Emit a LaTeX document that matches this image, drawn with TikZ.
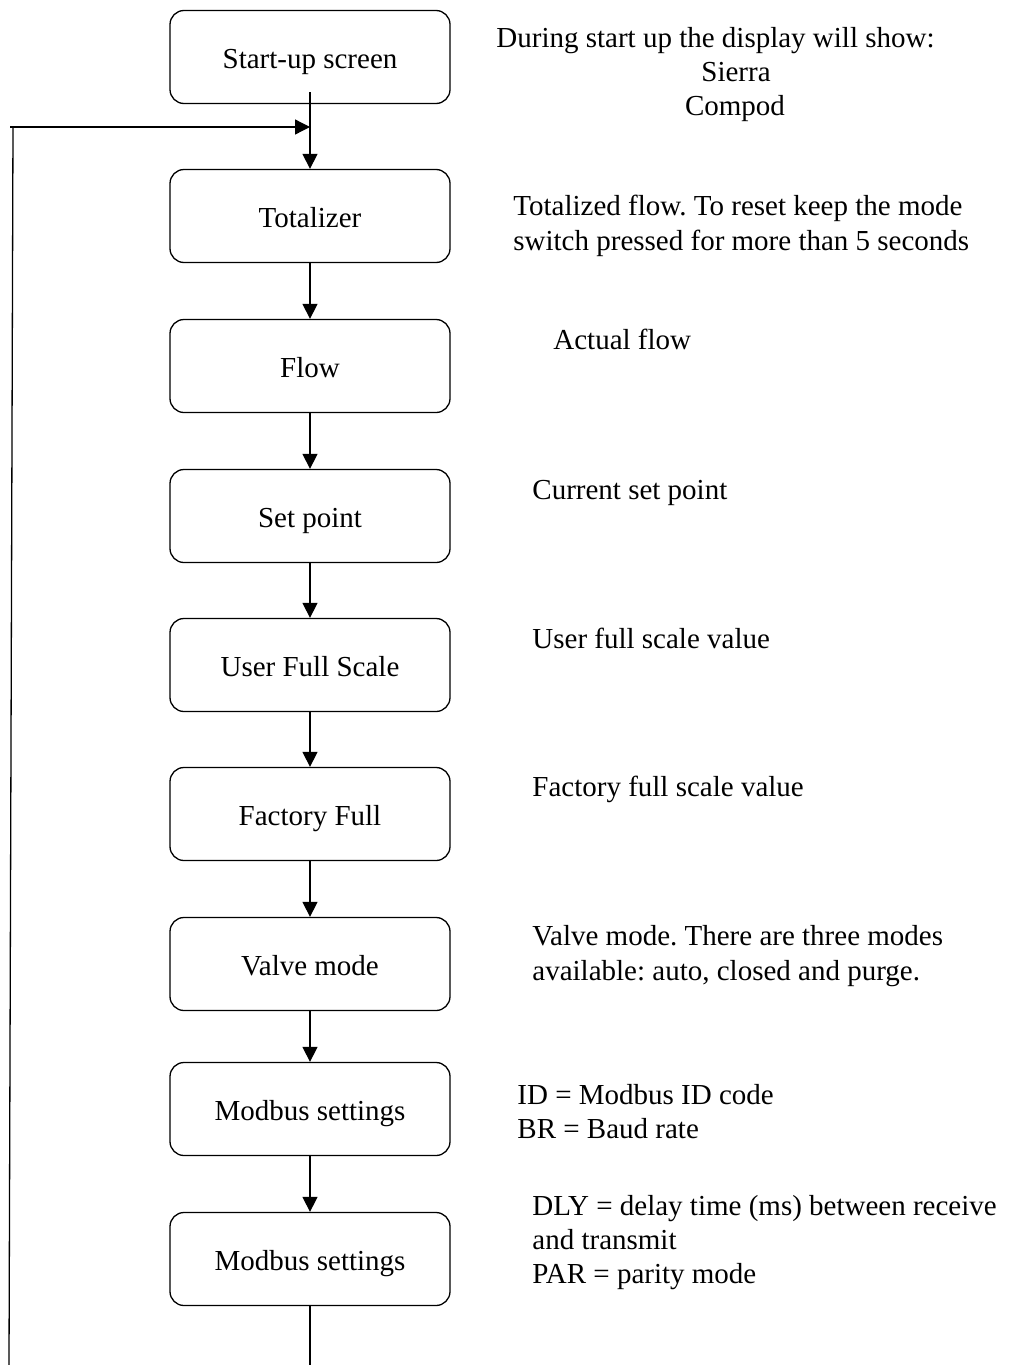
\documentclass[tikz,border=0pt]{standalone}
\usepackage{fontspec}
\setmainfont{Liberation Serif}
\frenchspacing
\usetikzlibrary{arrows.meta}
\begin{document}
\begin{tikzpicture}[x=0.5pt,y=-0.5pt,
  every node/.style={font=\fontsize{14.5pt}{17.5pt}\selectfont, inner sep=0pt},
  stepbox/.style={draw, line width=0.65pt, rounded corners=7pt, minimum width=140pt, minimum height=46.5pt, text height=11pt, text depth=0pt},
  desc/.style={anchor=base west},
  descc/.style={anchor=base},
  conn/.style={line width=0.65pt},
  arr/.style={conn, -{Triangle[length=7.5pt,width=7.5pt]}}]
\useasboundingbox (0,0) rectangle (1015,1365);
\node[stepbox] (b1) at (310,57) {Start-up screen};
\node[stepbox] (b2) at (310,216) {Totalizer};
\node[stepbox] (b3) at (310,366) {Flow};
\node[stepbox] (b4) at (310,516) {Set point};
\node[stepbox] (b5) at (310,665) {User Full Scale};
\node[stepbox] (b6) at (310,814) {Factory Full};
\node[stepbox] (b7) at (310,964) {Valve mode};
\node[stepbox] (b8) at (310,1109) {Modbus settings};
\node[stepbox] (b9) at (310,1259) {Modbus settings};
% connectors
\coordinate (s1) at (310,92);
\coordinate (j) at (310,127);
\coordinate (lt) at (13,127);
\coordinate (lh) at (10,127);
\coordinate (lb) at (9,1365);
\coordinate (bb) at (310,1365);
\draw[arr] (s1) -- (b2.north);
\draw[arr] (lh) -- (j);
\draw[conn] (lt) -- (lb);
\draw[arr] (b2.south) -- (b3.north);
\draw[arr] (b3.south) -- (b4.north);
\draw[arr] (b4.south) -- (b5.north);
\draw[arr] (b5.south) -- (b6.north);
\draw[arr] (b6.south) -- (b7.north);
\draw[arr] (b7.south) -- (b8.north);
\draw[arr] (b8.south) -- (b9.north);
\draw[conn] (b9.south) -- (bb);
% descriptions
\node[desc] (t1a) at (496,47) {During start up the display will show:};
\node[descc] (t1b) at (736,81) {Sierra};
\node[descc] (t1c) at (735,115) {Compod};
\node[desc] (t2a) at (513,215) {Totalized flow. To reset keep the mode};
\node[desc] (t2b) at (513,250) {switch pressed for more than 5 seconds};
\node[desc] (t3) at (553,349) {Actual flow};
\node[desc] (t4) at (532,499) {Current set point};
\node[desc] (t5) at (532,648) {User full scale value};
\node[desc] (t6) at (532,796) {Factory full scale value};
\node[desc] (t7a) at (532,945) {Valve mode. There are three modes};
\node[desc] (t7b) at (532,980) {available: auto, closed and purge.};
\node[desc] (t8a) at (517,1104) {ID = Modbus ID code};
\node[desc] (t8b) at (517,1138) {BR = Baud rate};
\node[desc] (t9a) at (532,1215) {DLY = delay time (ms) between receive};
\node[desc] (t9b) at (532,1249) {and transmit};
\node[desc] (t9c) at (532,1283) {PAR = parity mode};
\end{tikzpicture}
\end{document}
